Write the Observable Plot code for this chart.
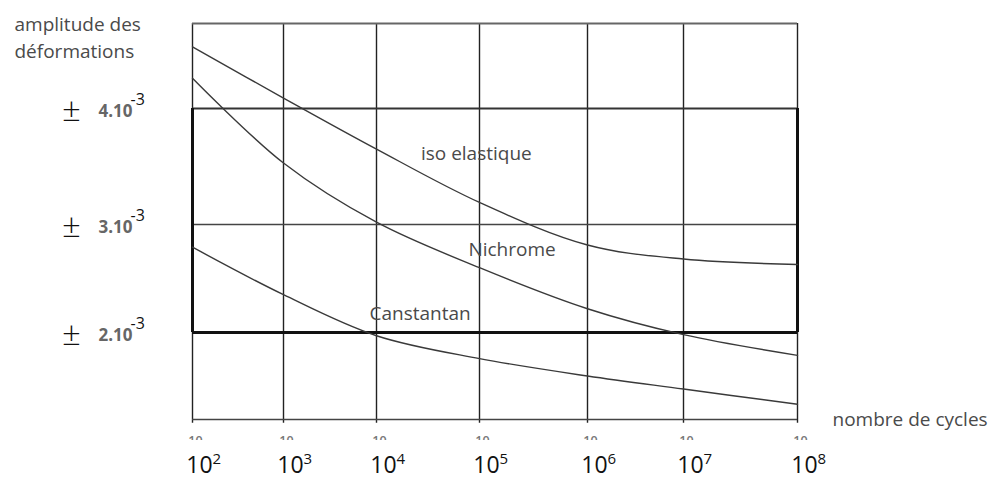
<!DOCTYPE html>
<html><head><meta charset="utf-8">
<script src="https://cdn.jsdelivr.net/npm/d3@7"></script>
<script src="https://cdn.jsdelivr.net/npm/@observablehq/plot@0.6"></script>
<style>body{margin:0;background:#fff}</style>
</head><body><div id="chart"></div>
<script>
// ---- data ----
const cycles = [1e2, 1e3, 1e4, 1e5, 1e6, 1e7, 1e8];
const exponents = ["2", "3", "4", "5", "6", "7", "8"];
// strain amplitude, in units of 1e-3
const isoElastique = [4.53, 4.09, 3.65, 3.19, 2.81, 2.68, 2.63];
const nichrome     = [4.26, 3.53, 3.02, 2.60, 2.22, 1.98, 1.79];
const constantan   = [2.79, 2.35, 1.97, 1.76, 1.60, 1.48, 1.34];
const yTicks = [2, 3, 4];
const yTickLabels = ["2.10", "3.10", "4.10"];
const curveNames = ["iso elastique", "Nichrome", "Canstantan"];
const labelCycles = [2.7e4, 7.8e4, 8.4e3];
const labelValues = [3.56, 2.71, 2.12];
const yMin = 1.2, yMax = 4.73;

const series = [["iso", isoElastique], ["ni", nichrome], ["co", constantan]];
const rows = series.flatMap(([s, vals]) => vals.map((v, i) => ({series: s, cycles: cycles[i], value: v})));
const labels = curveNames.map((t, i) => ({text: t, cycles: labelCycles[i], value: labelValues[i]}));
const yRows = yTicks.map((v, i) => ({v, label: yTickLabels[i]}));

const chart = Plot.plot({
  width: 992, height: 479,
  marginLeft: 192, marginRight: 195, marginTop: 23, marginBottom: 60,
  style: {fontFamily: "Open Sans", background: "white"},
  x: {type: "log", domain: cycles, range: [192, 283, 376, 479, 587, 683, 797], axis: null},
  y: {type: "linear", domain: [yMin, 2, 3, 4, yMax], range: [419, 332, 224, 108, 23], axis: null},
  marks: [
    Plot.ruleX(cycles, {x: d => d, y1: yMin - 0.035, y2: yMax, stroke: "#222", strokeWidth: 1.4}),
    Plot.ruleY([yMax], {y: d => d, x1: cycles[0], x2: cycles[6], stroke: "#666", strokeWidth: 2}),
    Plot.ruleY([yMin], {y: d => d, x1: cycles[0], x2: cycles[6], stroke: "#444", strokeWidth: 1.5}),
    Plot.ruleY([3], {y: d => d, x1: cycles[0], x2: cycles[6], stroke: "#444", strokeWidth: 1.6}),
    Plot.ruleY([4], {y: d => d, x1: cycles[0], x2: cycles[6], stroke: "#333", strokeWidth: 2.2}),
    Plot.ruleY([2], {y: d => d, x1: cycles[0], x2: cycles[6], stroke: "#111", strokeWidth: 3}),
    Plot.ruleX([cycles[0], cycles[6]], {x: d => d, y1: 2, y2: 4, stroke: "#111", strokeWidth: 3}),
    Plot.line(rows, {x: "cycles", y: "value", z: "series", curve: "catmull-rom", stroke: "#3a3a3a", strokeWidth: 1.4}),
    Plot.text(labels, {x: "cycles", y: "value", text: "text", textAnchor: "start", lineAnchor: "bottom", fontSize: 19, fill: "#4a4a4a", fontWeight: 500}),
    // y tick labels
    Plot.text(yRows, {y: "v", text: () => "±", frameAnchor: "left", dx: -121, dy: 2, textAnchor: "middle", lineAnchor: "middle", fontSize: 33, fill: "#111", fontWeight: 300}),
    Plot.text(yRows, {y: "v", text: "label", frameAnchor: "left", dx: -94, dy: 8, textAnchor: "start", lineAnchor: "bottom", fontSize: 17, fill: "#666", fontWeight: 700}),
    Plot.text(yRows, {y: "v", text: () => "-3", frameAnchor: "left", dx: -62, dy: -4, textAnchor: "start", lineAnchor: "bottom", fontSize: 16, fill: "#111"}),
    // x labels (small ones are half hidden in the reference)
    Plot.text(cycles, {x: d => d, y: () => yMin, text: () => "10", dx: 3, dy: 25, textAnchor: "middle", lineAnchor: "bottom", fontSize: 12.5, fill: "#777", fontWeight: 600}),
    Plot.text(cycles, {x: d => d, y: () => yMin, text: () => "10", dx: 7, dy: 53, textAnchor: "middle", lineAnchor: "bottom", fontSize: 23, fill: "#111"}),
    Plot.text(cycles, {x: d => d, y: () => yMin, text: (d, i) => exponents[i], dx: 20, dy: 44, textAnchor: "start", lineAnchor: "bottom", fontSize: 15, fill: "#111"}),
    // axis titles
    Plot.text(["amplitude des"], {text: d => d, frameAnchor: "top-left", dx: -178, dy: 7, textAnchor: "start", lineAnchor: "bottom", fontSize: 19, fill: "#4a4a4a", fontWeight: 500}),
    Plot.text(["déformations"], {text: d => d, frameAnchor: "top-left", dx: -178, dy: 34, textAnchor: "start", lineAnchor: "bottom", fontSize: 19, fill: "#4a4a4a", fontWeight: 500}),
    Plot.text(["nombre de cycles"], {text: d => d, frameAnchor: "bottom-right", dx: 35, dy: 6, textAnchor: "start", lineAnchor: "bottom", fontSize: 19, fill: "#4a4a4a", fontWeight: 500})
  ]
});
document.getElementById("chart").appendChild(chart);

// clip the half-hidden small "10" labels; the clip rect lives in the group's
// own (translated by dx/dy) coordinate system, so measure the cut in page space
const svg = d3.select(chart);
const clip = svg.append("defs").append("clipPath").attr("id", "cut10")
  .attr("clipPathUnits", "userSpaceOnUse").append("rect");
svg.selectAll("g").filter(function () { return this.getAttribute("font-size") === "12.5"; })
  .each(function () {
    const ctm = this.getCTM();
    const svgCtm = chart.getCTM ? chart.getCTM() : null;
    const offY = ctm && svgCtm ? ctm.f - svgCtm.f : 25;
    clip.attr("x", -50).attr("y", -50).attr("width", 1100).attr("height", 440 - offY + 50);
  })
  .attr("clip-path", "url(#cut10)");
</script>
</body></html>
